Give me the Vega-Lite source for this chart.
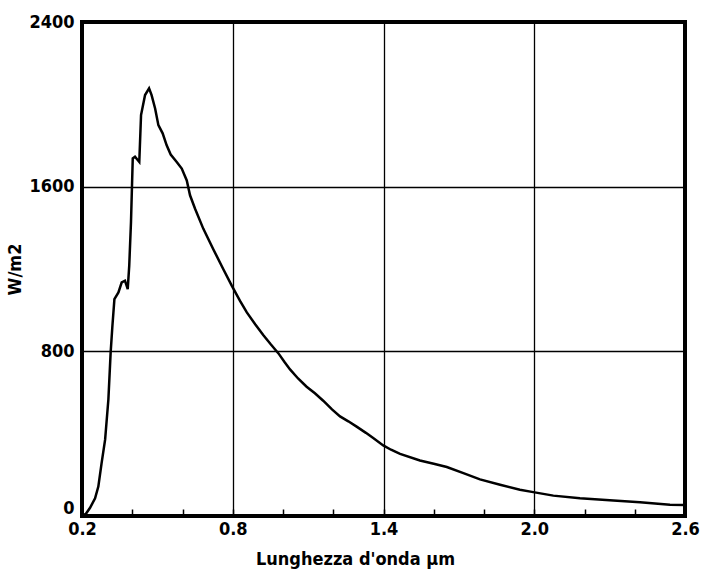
{
  "$schema": "https://vega.github.io/schema/vega-lite/v6.json",
  "autosize": {"type": "none"},
  "padding": {"left": 82, "top": 22, "right": 21, "bottom": 59},
  "width": 603,
  "height": 494,
  "background": "white",
  "config": {
    "view": {"stroke": "black", "strokeWidth": 4},
    "font": "DejaVu Sans Condensed"
  },
  "data": {
    "values": [
      {"wl": 0.2, "w": 0}, {"wl": 0.215, "w": 10}, {"wl": 0.232, "w": 40}, {"wl": 0.252, "w": 86},
      {"wl": 0.265, "w": 143}, {"wl": 0.278, "w": 257}, {"wl": 0.292, "w": 371}, {"wl": 0.305, "w": 566},
      {"wl": 0.314, "w": 794}, {"wl": 0.321, "w": 923}, {"wl": 0.329, "w": 1054}, {"wl": 0.345, "w": 1086},
      {"wl": 0.358, "w": 1135}, {"wl": 0.371, "w": 1143}, {"wl": 0.382, "w": 1102}, {"wl": 0.388, "w": 1216},
      {"wl": 0.395, "w": 1428}, {"wl": 0.402, "w": 1737}, {"wl": 0.411, "w": 1745}, {"wl": 0.428, "w": 1720},
      {"wl": 0.435, "w": 1948}, {"wl": 0.451, "w": 2045}, {"wl": 0.467, "w": 2078}, {"wl": 0.477, "w": 2045},
      {"wl": 0.491, "w": 1980}, {"wl": 0.504, "w": 1899}, {"wl": 0.521, "w": 1859}, {"wl": 0.537, "w": 1801},
      {"wl": 0.553, "w": 1756}, {"wl": 0.577, "w": 1720}, {"wl": 0.597, "w": 1688}, {"wl": 0.617, "w": 1630},
      {"wl": 0.63, "w": 1558}, {"wl": 0.65, "w": 1493}, {"wl": 0.683, "w": 1395}, {"wl": 0.723, "w": 1295},
      {"wl": 0.762, "w": 1200}, {"wl": 0.796, "w": 1119}, {"wl": 0.829, "w": 1045}, {"wl": 0.856, "w": 989},
      {"wl": 0.89, "w": 930}, {"wl": 0.922, "w": 878}, {"wl": 0.952, "w": 833}, {"wl": 0.982, "w": 790},
      {"wl": 1.006, "w": 748}, {"wl": 1.028, "w": 712}, {"wl": 1.06, "w": 668}, {"wl": 1.094, "w": 628},
      {"wl": 1.127, "w": 596}, {"wl": 1.16, "w": 560}, {"wl": 1.195, "w": 518}, {"wl": 1.227, "w": 484},
      {"wl": 1.26, "w": 460}, {"wl": 1.293, "w": 434}, {"wl": 1.33, "w": 404}, {"wl": 1.359, "w": 379},
      {"wl": 1.399, "w": 343}, {"wl": 1.43, "w": 322}, {"wl": 1.466, "w": 302}, {"wl": 1.545, "w": 270},
      {"wl": 1.6, "w": 254}, {"wl": 1.652, "w": 238}, {"wl": 1.718, "w": 208}, {"wl": 1.784, "w": 178},
      {"wl": 1.864, "w": 152}, {"wl": 1.943, "w": 128}, {"wl": 1.996, "w": 116}, {"wl": 2.076, "w": 99},
      {"wl": 2.182, "w": 86}, {"wl": 2.315, "w": 75}, {"wl": 2.421, "w": 67}, {"wl": 2.54, "w": 55},
      {"wl": 2.6, "w": 54}
    ]
  },
  "mark": {"type": "line", "color": "black", "strokeWidth": 2.5, "clip": true},
  "encoding": {
    "x": {
      "field": "wl",
      "type": "quantitative",
      "scale": {"domain": [0.2, 2.6], "nice": false, "zero": false},
      "axis": {
        "title": "Lunghezza d'onda µm",
        "titleFont": "DejaVu Sans Condensed",
        "titleFontSize": 18,
        "titleFontWeight": "bold",
        "titleColor": "black",
        "titlePadding": 12,
        "titleX": 273,
        "values": [0.2, 0.4, 0.6, 0.8, 1.0, 1.2, 1.4, 1.6, 1.8, 2.0, 2.2, 2.4, 2.6],
        "labelExpr": "round(datum.value*10) % 6 == 2 ? format(datum.value, '.1f') : ''",
        "labelFont": "DejaVu Sans Condensed",
        "labelFontSize": 18,
        "labelFontWeight": "bold",
        "labelColor": "black",
        "labelPadding": 11,
        "labelFlush": false,
        "tickSize": -7,
        "tickWidth": 1.5,
        "tickColor": "black",
        "domain": false,
        "grid": true,
        "gridColor": "black",
        "gridWidth": 1.3,
        "gridOpacity": {"condition": {"test": "round(datum.value*10) % 6 == 2", "value": 1}, "value": 0}
      }
    },
    "y": {
      "field": "w",
      "type": "quantitative",
      "scale": {"domain": [0, 2400], "nice": false},
      "axis": {
        "title": "W/m2",
        "titleFont": "DejaVu Sans Condensed",
        "titleFontSize": 18,
        "titleFontWeight": "bold",
        "titleColor": "black",
        "titlePadding": 4,
        "format": "d",
        "values": [0, 800, 1600, 2400],
        "labelFont": "DejaVu Sans Condensed",
        "labelFontSize": 18,
        "labelFontWeight": "bold",
        "labelColor": "black",
        "labelPadding": 8,
        "labelOffset": {"condition": {"test": "datum.value == 0", "value": -8}, "value": 0},
        "ticks": false,
        "domain": false,
        "grid": true,
        "gridColor": "black",
        "gridWidth": 1.3
      }
    }
  }
}
